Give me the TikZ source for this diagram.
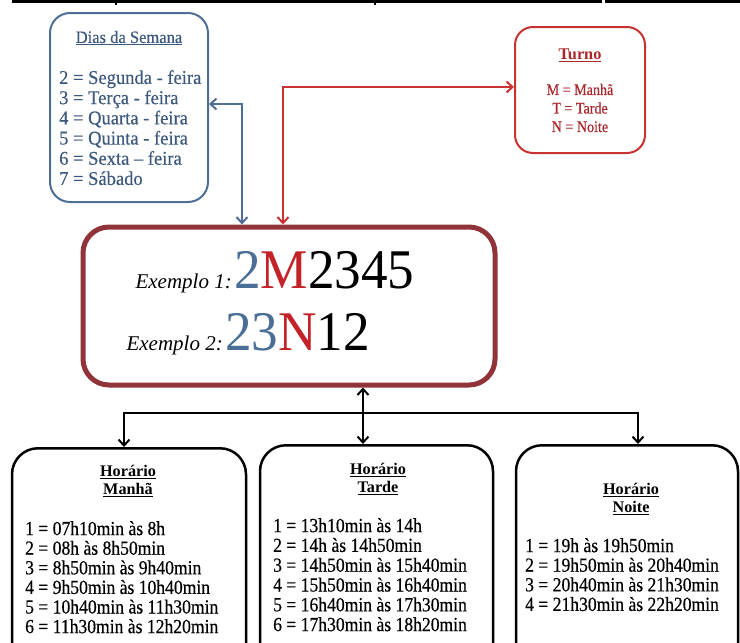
\documentclass[tikz,border=0pt]{standalone}
\usepackage{fontspec}
\setmainfont{Liberation Serif}
\newfontfamily\condf[FakeStretch=0.88,FakeBold=0.4,Ligatures=TeX]{Liberation Serif}
\newfontfamily\numf[FakeStretch=0.95]{Liberation Serif}
\newfontfamily\diasf[FakeStretch=0.95,FakeBold=0.3,Ligatures=TeX]{Liberation Serif}
\usetikzlibrary{arrows.meta}
\definecolor{bluec}{RGB}{78,110,150}
\definecolor{bluet}{RGB}{60,88,125}
\definecolor{redc}{RGB}{200,50,50}
\definecolor{redt}{RGB}{170,40,45}
\definecolor{mainc}{RGB}{145,52,58}
\definecolor{numblue}{RGB}{75,110,150}
\definecolor{numred}{RGB}{195,35,40}
\tikzset{
  box/.style={draw, rectangle, rounded corners=#1, inner sep=0pt},
  tbox/.style={inner sep=0pt, align=left, anchor=north west},
  conn/.style={line width=2.2pt, {Straight Barb[length=6pt,width=11pt,line width=2pt]}-{Straight Barb[length=6pt,width=11pt,line width=2pt]}},
  connto/.style={line width=2.2pt, -{Straight Barb[length=6pt,width=11pt,line width=2pt]}},
}
\newcommand{\ul}[1]{\underline{#1}}
\begin{document}
\begin{tikzpicture}[x=1pt,y=-1pt]
\useasboundingbox (0,0) rectangle (740,643);
\clip (0,0) rectangle (740,643);
% top partial border
\draw[line width=2.5pt] (12,1.5) coordinate (ta) -- (602,1.5) coordinate (tb);
\draw[line width=2.5pt] (605,1.5) coordinate (tc) -- (740,1.5) coordinate (td);
\draw[line width=1.5pt] (116,0) coordinate (tk1) -- (116,4.5) coordinate (tk2);
\draw[line width=1.5pt] (375,0) coordinate (tk3) -- (375,4.5) coordinate (tk4);

% Dias da Semana
\node[box=20pt, draw=bluec, line width=2pt, minimum width=158pt, minimum height=189pt] (dias) at (129,107.5) {};
\node[text=bluet, font=\diasf\fontsize{17.4}{20}\selectfont] (diast) at (129,38) {\ul{Dias da Semana}};
\node[tbox, text=bluet, font=\diasf\fontsize{19.5}{20.2}\selectfont] (diasl) at (59,70) {2 = Segunda - feira\\3 = Terça - feira\\4 = Quarta - feira\\5 = Quinta - feira\\6 = Sexta – feira\\7 = Sábado};

% Turno
\node[box=18pt, draw=redc, line width=2pt, minimum width=130pt, minimum height=126pt] (turno) at (580,90) {};
\node[text=redt, font=\fontsize{16.3}{18}\selectfont\bfseries] (turnot) at (580,55) {\ul{Turno}};
\node[text=redt, align=center, inner sep=0pt, font=\condf\fontsize{16}{18.5}\selectfont] (turnol) at (580,108) {M = Manhã\\T = Tarde\\N = Noite};

% Main
\node[box=26pt, draw=mainc, line width=5pt, minimum width=412pt, minimum height=158pt] (main) at (289,306) {};
\node[anchor=base east, inner sep=0pt, font=\fontsize{21}{24}\selectfont\itshape] (ex1) at (232,288) {Exemplo 1:};
\node[anchor=base west, inner sep=0pt, font=\numf\fontsize{56}{60}\selectfont] (n1) at (234,288) {\textcolor{numblue}{2}\textcolor{numred}{M}2345};
\node[anchor=base east, inner sep=0pt, font=\fontsize{21}{24}\selectfont\itshape] (ex2) at (223,350) {Exemplo 2:};
\node[anchor=base west, inner sep=0pt, font=\numf\fontsize{56}{60}\selectfont] (n2) at (225,350) {\textcolor{numblue}{23}\textcolor{numred}{N}12};

% Bottom boxes
\node[box=26pt, draw=black, line width=2.5pt, minimum width=234pt, minimum height=230pt, anchor=north] (manha) at (129,447) {};
\node[box=26pt, draw=black, line width=2.5pt, minimum width=233pt, minimum height=230pt, anchor=north] (tarde) at (376.5,444) {};
\node[box=26pt, draw=black, line width=2.5pt, minimum width=222pt, minimum height=230pt, anchor=north] (noite) at (627,444) {};

\node[align=center, inner sep=0pt, font=\fontsize{16.2}{18}\selectfont\bfseries] (manhat) at (128,481) {\ul{Horário}\\\ul{Manhã}};
\node[tbox, font=\condf\fontsize{20}{19.6}\selectfont] (manhal) at (25,521) {1 = 07h10min às 8h\\2 = 08h às 8h50min\\3 = 8h50min às 9h40min\\4 = 9h50min às 10h40min\\5 = 10h40min às 11h30min\\6 = 11h30min às 12h20min};

\node[align=center, inner sep=0pt, font=\fontsize{16.2}{18}\selectfont\bfseries] (tardet) at (378,479) {\ul{Horário}\\\ul{Tarde}};
\node[tbox, font=\condf\fontsize{20}{19.8}\selectfont] (tardel) at (273,518) {1 = 13h10min às 14h\\2 = 14h às 14h50min\\3 = 14h50min às 15h40min\\4 = 15h50min às 16h40min\\5 = 16h40min às 17h30min\\6 = 17h30min às 18h20min};

\node[align=center, inner sep=0pt, font=\fontsize{16.2}{18}\selectfont\bfseries] (noitet) at (631,499) {\ul{Horário}\\\ul{Noite}};
\node[tbox, font=\condf\fontsize{20}{19.6}\selectfont] (noitel) at (525,538) {1 = 19h às 19h50min\\2 = 19h50min às 20h40min\\3 = 20h40min às 21h30min\\4 = 21h30min às 22h20min};

% Connectors
\coordinate (bx) at (242,0);
\coordinate (rx) at (283,0);
\draw[conn, draw=bluec, line width=2pt] (dias.east |- 0,104) -| (main.north -| bx);
\draw[conn, draw=redc, line width=2pt] (turno.west |- 0,87) -| (main.north -| rx);
\coordinate (hj) at (363,413);
\coordinate (lx) at (124,0);
\coordinate (rx2) at (638,0);
\draw[conn] (main.south -| hj) -- (tarde.north -| hj);
\draw[connto] (hj) -| (manha.north -| lx);
\draw[connto] (hj) -| (noite.north -| rx2);
\end{tikzpicture}
\end{document}
